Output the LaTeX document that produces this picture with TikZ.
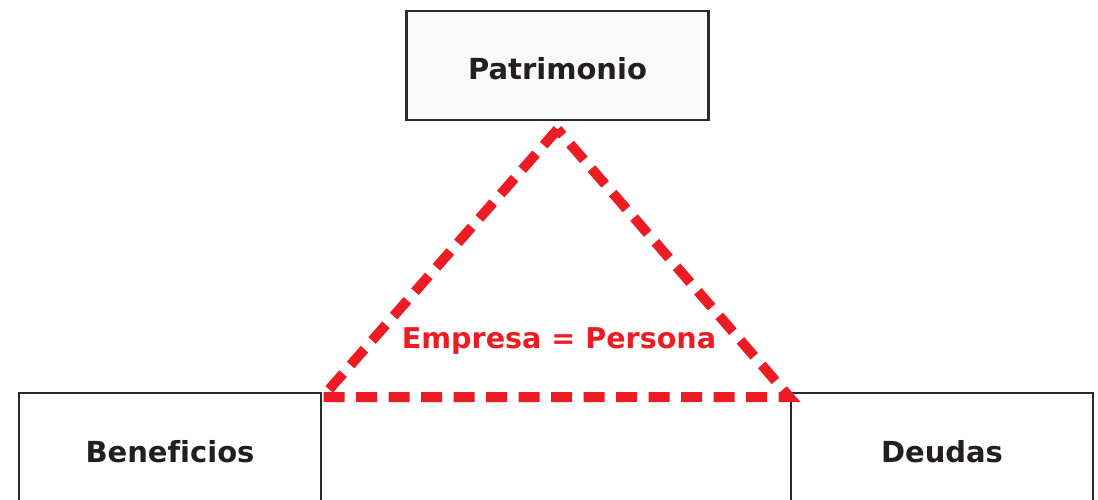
\documentclass[tikz,border=0pt]{standalone}
\usepackage{fontspec}
\setmainfont[Ligatures=NoCommon]{DejaVu Sans}
\definecolor{ColLine}{RGB}{43,43,43}
\definecolor{ColText}{RGB}{35,31,32}
\definecolor{ColFill}{RGB}{250,250,250}
\definecolor{ColRed}{RGB}{237,28,36}
\tikzstyle{BoxNode}=[rectangle,draw=ColLine,fill=white,line width=2.8pt,minimum width=302pt,
minimum height=109pt,inner sep=0pt,text=ColText,text height=29pt,text depth=0pt,
font=\fontsize{29}{34}\selectfont\bfseries]
\tikzstyle{EdgeTriangle}=[ColRed,line width=10pt,dash pattern=on 21pt off 11.5pt]
\tikzstyle{LabelRed}=[text=ColRed,inner sep=0pt,font=\fontsize{28.6}{33}\selectfont\bfseries]

\begin{document}
\begin{tikzpicture}[x=1pt,y=-1pt]
        \useasboundingbox (0,0) rectangle (1098,500);
        \clip (0,0) rectangle (1098,500);
        \fill[white] (0,0) rectangle (1098,500);
        \node[BoxNode,fill=ColFill](pat)at(557.5,65.5){Patrimonio};
        \node[BoxNode](ben)at(170,447.5){Beneficios};
        \node[BoxNode](deu)at(942,447.5){Deudas};
        \coordinate (top) at ([yshift=-8pt]pat.south);
        \coordinate (left) at ([yshift=-5.5pt]ben.north east);
        \coordinate (right) at ([yshift=-5.5pt]deu.north west);
        \draw[EdgeTriangle](top)--(left)--(right)--cycle;
        \node[LabelRed](emp)at(559,341){Empresa = Persona};
    \end{tikzpicture}
\end{document}
